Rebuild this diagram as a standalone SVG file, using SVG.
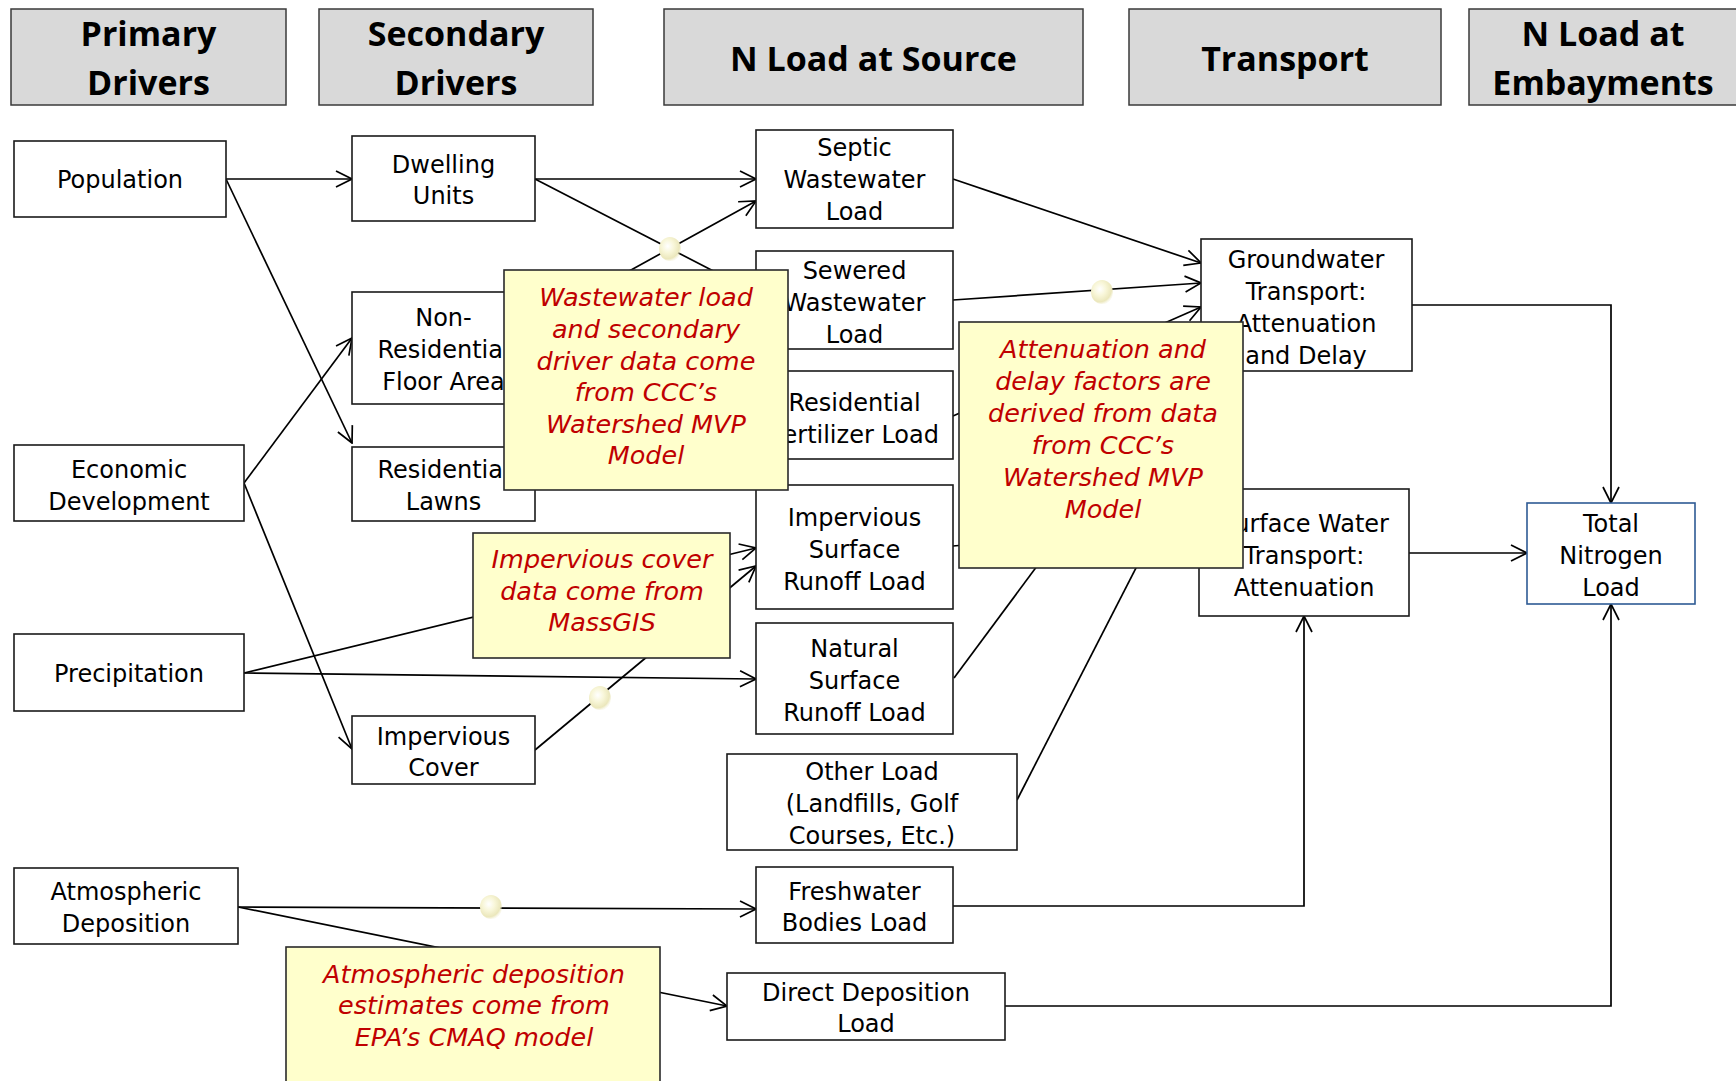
<svg xmlns="http://www.w3.org/2000/svg" width="1736" height="1081" viewBox="0 0 1736 1081">
<defs>
<style>
.hdr rect{fill:#d9d9d9;stroke:#3a3a3a;stroke-width:1.5}
.h{font-family:"Open Sans","DejaVu Sans",sans-serif;font-weight:bold;font-size:34px;text-anchor:middle;fill:#000}
.node rect{fill:#fff;stroke:#1a1a1a;stroke-width:1.6}
.t{font-family:"DejaVu Sans","Liberation Sans",sans-serif;font-size:24px;text-anchor:middle;fill:#000}
.note rect{fill:#ffffcc;stroke:#2a2a2a;stroke-width:1.6}
.n{font-family:"DejaVu Sans","Liberation Sans",sans-serif;font-style:italic;font-size:25.5px;text-anchor:middle;fill:#c00000}
.c{fill:none;stroke:#000;stroke-width:1.7}
.a{marker-end:url(#arr)}
</style>
<marker id="arr" viewBox="0 0 18 18" refX="17" refY="9" markerWidth="18" markerHeight="18" markerUnits="userSpaceOnUse" orient="auto">
<path d="M1,1 L17,9 L1,17" fill="none" stroke="#000" stroke-width="1.7"/>
</marker>
<radialGradient id="blob" cx="0.4" cy="0.38" r="0.62">
<stop offset="0" stop-color="#ffffff"/>
<stop offset="0.45" stop-color="#f8f6d8"/>
<stop offset="0.85" stop-color="#ebe7bc"/>
<stop offset="1" stop-color="#ebe7bc" stop-opacity="0.3"/>
</radialGradient>
</defs>
<rect x="0" y="0" width="1736" height="1081" fill="#fff"/>

<g id="headers" class="hdr">
<g id="hdr-primary"><rect x="11" y="9" width="275" height="96"/><text class="h" x="148.5" y="46">Primary</text><text class="h" x="148.5" y="95">Drivers</text></g>
<g id="hdr-secondary"><rect x="319" y="9" width="274" height="96"/><text class="h" x="456" y="46">Secondary</text><text class="h" x="456" y="95">Drivers</text></g>
<g id="hdr-source"><rect x="664" y="9" width="419" height="96"/><text class="h" x="873.5" y="71">N Load at Source</text></g>
<g id="hdr-transport"><rect x="1129" y="9" width="312" height="96"/><text class="h" x="1285" y="71">Transport</text></g>
<g id="hdr-embay"><rect x="1469" y="9" width="270" height="96"/><text class="h" x="1603" y="46">N Load at</text><text class="h" x="1603" y="95">Embayments</text></g>
</g>

<g id="connectors">
<path class="c a" d="M226,179 L352,179"/>
<path class="c a" d="M226,179 L352,443"/>
<path class="c a" d="M535,179 L756,179"/>
<path class="c a" d="M535,179 L756,293"/>
<path class="c a" d="M535,323 L756,201"/>
<path class="c a" d="M244,483 L352,338"/>
<path class="c a" d="M244,483 L352,749"/>
<path class="c a" d="M244,673 L756,679"/>
<path class="c a" d="M244,673 L756,548"/>
<path class="c a" d="M535,750 L756,566"/>
<path class="c a" d="M953,179 L1201,263"/>
<path class="c a" d="M953,300 L1201,283"/>
<path class="c a" d="M953,416 L1201,307"/>
<path class="c a" d="M953,546 L1199,525"/>
<path class="c a" d="M954,678 L1201,345"/>
<path class="c a" d="M1017,800 L1237,371"/>
<path class="c a" d="M1412,305 L1611,305 L1611,503"/>
<path class="c a" d="M1409,553 L1527,553"/>
<path class="c a" d="M953,906 L1304,906 L1304,616"/>
<path class="c a" d="M1005,1006 L1611,1006 L1611,604"/>
<path class="c a" d="M238,907 L756,909"/>
<path class="c a" d="M238,907 L727,1006"/>
<g id="junctions">
<ellipse cx="670" cy="249" rx="11" ry="12" fill="url(#blob)"/>
<ellipse cx="1102" cy="292" rx="11" ry="12" fill="url(#blob)"/>
<ellipse cx="600" cy="698" rx="11" ry="12" fill="url(#blob)"/>
<ellipse cx="491" cy="907" rx="11" ry="12" fill="url(#blob)"/>
</g>
</g>

<g id="nodes" class="node">
<g id="population"><rect x="14" y="141" width="212" height="76"/><text class="t" x="120" y="188">Population</text></g>
<g id="economic"><rect x="14" y="445" width="230" height="76"/><text class="t" x="129" y="478">Economic</text><text class="t" x="129" y="510">Development</text></g>
<g id="precipitation"><rect x="14" y="634" width="230" height="77"/><text class="t" x="129" y="682">Precipitation</text></g>
<g id="atmospheric"><rect x="14" y="868" width="224" height="76"/><text class="t" x="126" y="900">Atmospheric</text><text class="t" x="126" y="932">Deposition</text></g>
<g id="dwelling"><rect x="352" y="136" width="183" height="85"/><text class="t" x="443.5" y="173">Dwelling</text><text class="t" x="443.5" y="204">Units</text></g>
<g id="nonres"><rect x="352" y="292" width="183" height="112"/><text class="t" x="443.5" y="326">Non-</text><text class="t" x="443.5" y="358">Residential</text><text class="t" x="443.5" y="390">Floor Area</text></g>
<g id="lawns"><rect x="352" y="447" width="183" height="74"/><text class="t" x="443.5" y="478">Residential</text><text class="t" x="443.5" y="510">Lawns</text></g>
<g id="impcover"><rect x="352" y="716" width="183" height="68"/><text class="t" x="443.5" y="745">Impervious</text><text class="t" x="443.5" y="776">Cover</text></g>
<g id="septic"><rect x="756" y="130" width="197" height="98"/><text class="t" x="854.5" y="156">Septic</text><text class="t" x="854.5" y="188">Wastewater</text><text class="t" x="854.5" y="220">Load</text></g>
<g id="sewered"><rect x="756" y="251" width="197" height="98"/><text class="t" x="854.5" y="279">Sewered</text><text class="t" x="854.5" y="311">Wastewater</text><text class="t" x="854.5" y="343">Load</text></g>
<g id="fertilizer"><rect x="756" y="371" width="197" height="88"/><text class="t" x="854.5" y="411">Residential</text><text class="t" x="854.5" y="443">Fertilizer Load</text></g>
<g id="impsurf"><rect x="756" y="485" width="197" height="124"/><text class="t" x="854.5" y="526">Impervious</text><text class="t" x="854.5" y="558">Surface</text><text class="t" x="854.5" y="590">Runoff Load</text></g>
<g id="natural"><rect x="756" y="623" width="197" height="111"/><text class="t" x="854.5" y="657">Natural</text><text class="t" x="854.5" y="689">Surface</text><text class="t" x="854.5" y="721">Runoff Load</text></g>
<g id="other"><rect x="727" y="754" width="290" height="96"/><text class="t" x="872" y="780">Other Load</text><text class="t" x="872" y="812">(Landfills, Golf</text><text class="t" x="872" y="844">Courses, Etc.)</text></g>
<g id="freshwater"><rect x="756" y="867" width="197" height="76"/><text class="t" x="854.5" y="900">Freshwater</text><text class="t" x="854.5" y="931">Bodies Load</text></g>
<g id="direct"><rect x="727" y="973" width="278" height="67"/><text class="t" x="866" y="1001">Direct Deposition</text><text class="t" x="866" y="1032">Load</text></g>
<g id="groundwater"><rect x="1201" y="239" width="211" height="132"/><text class="t" x="1306" y="268">Groundwater</text><text class="t" x="1306" y="300">Transport:</text><text class="t" x="1306" y="332">Attenuation</text><text class="t" x="1306" y="364">and Delay</text></g>
<g id="surfacewater"><rect x="1199" y="489" width="210" height="127"/><text class="t" x="1304" y="532">Surface Water</text><text class="t" x="1304" y="564">Transport:</text><text class="t" x="1304" y="596">Attenuation</text></g>
<g id="totaln"><rect x="1527" y="503" width="168" height="101" style="stroke:#2e5a94"/><text class="t" x="1611" y="532">Total</text><text class="t" x="1611" y="564">Nitrogen</text><text class="t" x="1611" y="596">Load</text></g>
</g>

<g id="notes" class="note">
<g id="note-wastewater"><rect x="504" y="270" width="284" height="220"/>
<text class="n" x="646" y="306">Wastewater load</text><text class="n" x="646" y="338">and secondary</text><text class="n" x="646" y="370">driver data come</text><text class="n" x="646" y="401">from CCC’s</text><text class="n" x="646" y="433">Watershed MVP</text><text class="n" x="646" y="464">Model</text></g>
<g id="note-attenuation"><rect x="959" y="322" width="284" height="246"/>
<text class="n" x="1103" y="358">Attenuation and</text><text class="n" x="1103" y="390">delay factors are</text><text class="n" x="1103" y="422">derived from data</text><text class="n" x="1103" y="454">from CCC’s</text><text class="n" x="1103" y="486">Watershed MVP</text><text class="n" x="1103" y="518">Model</text></g>
<g id="note-impervious"><rect x="473" y="533" width="257" height="125"/>
<text class="n" x="602" y="568">Impervious cover</text><text class="n" x="602" y="600">data come from</text><text class="n" x="602" y="631">MassGIS</text></g>
<g id="note-atmos"><rect x="286" y="947" width="374" height="145"/>
<text class="n" x="474" y="983">Atmospheric deposition</text><text class="n" x="474" y="1014">estimates come from</text><text class="n" x="474" y="1046">EPA’s CMAQ model</text></g>
</g>
</svg>
